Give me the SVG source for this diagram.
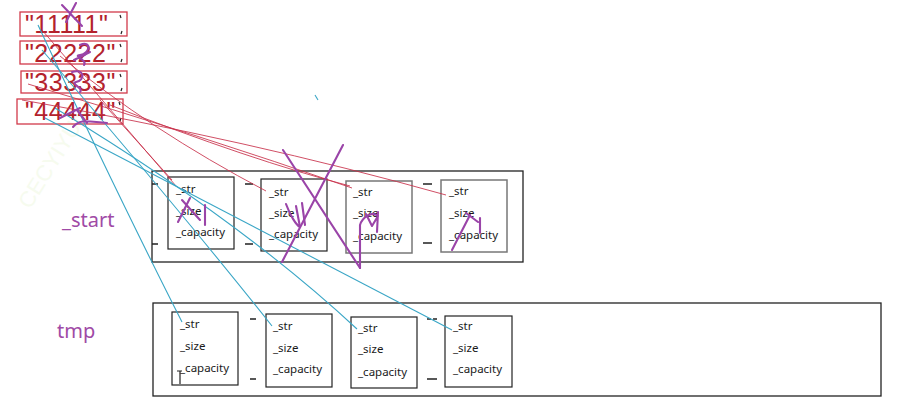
<svg xmlns="http://www.w3.org/2000/svg" width="906" height="409" viewBox="0 0 906 409">
<style>
.strbox{fill:none;stroke:#d23a4a;stroke-width:1.3}
.strtxt{font-family:"Liberation Sans",Arial,sans-serif;font-size:25px;fill:#b3222c;letter-spacing:0.5px}
.outer{fill:none;stroke:#222;stroke-width:1.3}
.inner{fill:none;stroke:#222;stroke-width:1.2}
.innerg{fill:none;stroke:#777;stroke-width:1.5}
.fld{font-family:"Noto Sans","Liberation Sans",sans-serif;font-size:11.5px;fill:#1a1a1a}
.lbl{font-family:"Noto Sans","Liberation Sans",sans-serif;font-size:20px;fill:#a04aa6}
.dash{stroke:#222;stroke-width:1.3}
.red{stroke:#c8304a;stroke-width:1;fill:none;opacity:0.85}
.cyan{stroke:#3aa6c6;stroke-width:1.1;fill:none}
.pur{stroke:#9a44a8;stroke-width:2.1;fill:none;stroke-linecap:round;stroke-linejoin:round}
.tick{stroke:#222;stroke-width:1.2;fill:none}
</style>

<text x="30" y="210" transform="rotate(-58 30 210)" font-family="Liberation Sans,sans-serif" font-size="22" fill="#f6fbee">CECYIYUN</text>

<g id="str1">
<rect class="strbox" x="20" y="12" width="107" height="24"/>
<text class="strtxt" x="25" y="33">"11111"</text>
<path class="tick" d="M120,15 l1,3 M122,31 l-1,3"/>
</g>
<g id="str2">
<rect class="strbox" x="20" y="41" width="107" height="23"/>
<text class="strtxt" x="25" y="62">"22222"</text>
<path class="tick" d="M120,44 l1,3 M122,59 l-1,3"/>
</g>
<g id="str3">
<rect class="strbox" x="21" y="71" width="106" height="22"/>
<text class="strtxt" x="25" y="91">"33333"</text>
<path class="tick" d="M120,74 l1,3 M122,88 l-1,3"/>
</g>
<g id="str4">
<rect class="strbox" x="17" y="99" width="106" height="25"/>
<text class="strtxt" x="25" y="120">"44444"</text>
<path class="tick" d="M119,102 l1,3 M121,118 l-1,3"/>
</g>

<g id="label_start"><text class="lbl" x="62" y="227">_start</text></g>
<g id="label_tmp"><text class="lbl" x="57" y="338">tmp</text></g>

<g id="start">
<rect class="outer" x="152" y="171" width="371" height="91"/>
<path class="dash" d="M152,184 h6 M152,244 h6 M245,184 h8 M245,244 h8 M423,184 h9 M423,243 h9"/>
</g>
<g id="start_obj1">
<rect class="inner" x="168" y="177" width="66" height="72"/>
<text class="fld" x="176" y="193">_str</text>
<text class="fld" x="176" y="215">_size</text>
<text class="fld" x="176" y="236">_capacity</text>
</g>
<g id="start_obj2">
<rect class="inner" x="261" y="179" width="66" height="72"/>
<text class="fld" x="269" y="196">_str</text>
<text class="fld" x="269" y="217">_size</text>
<text class="fld" x="269" y="238">_capacity</text>
</g>
<g id="start_obj3">
<rect class="innerg" x="346" y="181" width="66" height="72"/>
<text class="fld" x="353" y="196">_str</text>
<text class="fld" x="353" y="217">_size</text>
<text class="fld" x="353" y="240">_capacity</text>
</g>
<g id="start_obj4">
<rect class="innerg" x="441" y="180" width="66" height="72"/>
<text class="fld" x="449" y="195">_str</text>
<text class="fld" x="449" y="217">_size</text>
<text class="fld" x="449" y="239">_capacity</text>
</g>

<g id="tmp">
<rect class="outer" x="153" y="303" width="728" height="93"/>
<path class="dash" d="M250,319 h6 M250,379 h6 M427,319 h4 M433,319 h4 M427,379 h10"/>
</g>
<g id="tmp_obj1">
<rect class="inner" x="172" y="312" width="66" height="73"/>
<text class="fld" x="180" y="328">_str</text>
<text class="fld" x="180" y="350">_size</text>
<text class="fld" x="180" y="372">_capacity</text>
<path class="tick" d="M177,371 h5 M180,371 v13"/>
</g>
<g id="tmp_obj2">
<rect class="inner" x="266" y="314" width="66" height="73"/>
<text class="fld" x="273" y="330">_str</text>
<text class="fld" x="273" y="352">_size</text>
<text class="fld" x="273" y="373">_capacity</text>
</g>
<g id="tmp_obj3">
<rect class="inner" x="351" y="317" width="66" height="71"/>
<text class="fld" x="358" y="332">_str</text>
<text class="fld" x="358" y="353">_size</text>
<text class="fld" x="358" y="376">_capacity</text>
</g>
<g id="tmp_obj4">
<rect class="inner" x="445" y="316" width="67" height="71"/>
<text class="fld" x="453" y="330">_str</text>
<text class="fld" x="453" y="352">_size</text>
<text class="fld" x="453" y="373">_capacity</text>
</g>

<g id="connectors">
<path class="red" d="M42,30 L176,186"/>
<path class="red" d="M100,100 L172,180"/>
<path class="red" d="M60,56 Q150,130 266,191"/>
<path class="red" d="M28,84 Q200,135 352,188"/>
<path class="red" d="M22,100 Q250,140 446,195"/>
<path class="red" d="M110,105 Q250,160 350,186"/>
<path class="cyan" d="M38,25 Q120,200 182,322"/>
<path class="cyan" d="M42,50 Q180,210 272,326"/>
<path class="cyan" d="M55,108 Q240,220 357,329"/>
<path class="cyan" d="M45,118 Q260,230 452,330"/>
<path class="cyan" d="M315,95 l3,5"/>
</g>

<g id="scribbles">
<path class="pur" d="M62,5 L82,26 M76,3 L66,22"/>
<path class="pur" d="M80,45 C92,40 90,54 80,55 C72,56 88,60 84,65 M74,60 L90,52"/>
<path class="pur" d="M72,72 C84,68 86,80 76,82 C70,84 84,88 80,92"/>
<path class="pur" d="M77,110 L87,123 M73,127 C80,118 90,122 107,123 M60,118 L80,108"/>
<path class="pur" d="M190,198 L178,222 M182,200 L200,220 M205,205 L205,225"/>
<path class="pur" d="M283,150 L360,268 M343,145 L282,262"/>
<path class="pur" d="M286,204 C290,215 296,225 300,227 L296,206 M302,203 L305,225"/>
<path class="pur" d="M360,268 L360,225 C362,218 372,210 378,216 L372,226 L366,214 M378,212 L377,232"/>
<path class="pur" d="M452,250 L470,215 M466,213 L478,222 M480,218 L480,233"/>
</g>
</svg>
